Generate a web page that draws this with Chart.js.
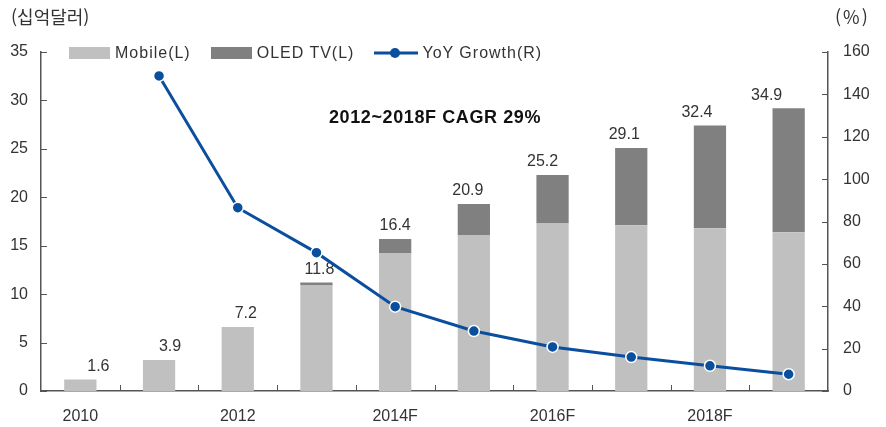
<!DOCTYPE html>
<html lang="ko">
<head>
<meta charset="utf-8">
<title>Mobile / OLED TV</title>
<script src="https://cdn.jsdelivr.net/npm/chart.js@4/dist/chart.umd.min.js"></script>
<style>
    body { margin: 0; background: #fff; }
    .wrap { position: relative; width: 886px; height: 427px; font-family: 'Liberation Sans', Arial, sans-serif; color: #333; }
    .unit { position: absolute; top: 3px; font-size: 18px; font-family: 'Noto Sans CJK KR', 'Liberation Sans', sans-serif; }
    .cagr { position: absolute; left: 329px; top: 107px; font-size: 18px; font-weight: bold; color: #111; letter-spacing: 0.6px; }
    .legend { position: absolute; left: 69px; top: 44px; display: flex; align-items: center; font-size: 16px; letter-spacing: 1px; }
    .legend .item { display: flex; align-items: center; margin-right: 20px; }
    .legend .swatch { width: 41px; height: 12px; margin-right: 5px; }
    .legend canvas { margin-right: 4px; }
</style>
</head>
<body>
<div class="wrap">
    <canvas id="chart" width="886" height="427"></canvas>
    <div class="unit" style="left:11px">(십억달러)</div>
    <div class="unit" style="left:835px; letter-spacing:2px">(%)</div>
    <div class="cagr">2012~2018F CAGR 29%</div>
    <div class="legend" id="legend"></div>
</div>
<script>
// categories and values
const categories = ['2010', '2011', '2012', '2013', '2014F', '2015F', '2016F', '2017F', '2018F', '2019F'];
const xTickLabels = ['2010', '', '2012', '', '2014F', '', '2016F', '', '2018F', ''];
const mobile = [1.2, 3.2, 6.6, 10.9, 14.2, 16.1, 17.3, 17.1, 16.8, 16.4];
const oledTv = [0, 0, 0, 0.3, 1.5, 3.2, 5.0, 8.0, 10.6, 12.8];
const yoyGrowth = [null, 148.7, 86.5, 65.3, 39.8, 28.3, 20.8, 16.0, 11.9, 7.9];
const totalLabels = ['1.6', '3.9', '7.2', '11.8', '16.4', '20.9', '25.2', '29.1', '32.4', '34.9'];

const axisColor = '#555';
const tickFont = { family: 'Liberation Sans', size: 16 };

// value labels above each stacked bar, drawn just before the line
// (in the original they sit a little off the bar centres)
const totalLabelPlugin = {
    id: 'totalLabels',
    beforeDatasetDraw(chart, args, opts) {
        if (args.index !== 2) return;
        const meta = chart.getDatasetMeta(1);
        const ctx = chart.ctx;
        ctx.save();
        ctx.font = '16px "Liberation Sans"';
        ctx.fillStyle = '#333';
        ctx.textAlign = 'center';
        ctx.textBaseline = 'bottom';
        meta.data.forEach((bar, i) => {
            ctx.fillText(totalLabels[i], bar.x + (opts.shift[i] || 0), bar.y - 5);
        });
        ctx.restore();
    }
};

// tick marks point inward, into the plot
const innerTicksPlugin = {
    id: 'innerTicks',
    afterDraw(chart) {
        const ctx = chart.ctx;
        const x = chart.scales.x, y = chart.scales.y, y1 = chart.scales.y1;
        const len = 6;
        ctx.save();
        ctx.strokeStyle = axisColor;
        ctx.lineWidth = 1;
        ctx.beginPath();
        for (let i = 1; i < categories.length; i++) {
            const px = Math.round((x.getPixelForValue(i - 1) + x.getPixelForValue(i)) / 2) + 0.5;
            ctx.moveTo(px, x.top);
            ctx.lineTo(px, x.top - len);
        }
        y.ticks.forEach((t, i) => {
            const py = Math.round(y.getPixelForTick(i)) + 0.5;
            ctx.moveTo(y.right, py);
            ctx.lineTo(y.right + len, py);
        });
        y1.ticks.forEach((t, i) => {
            const py = Math.round(y1.getPixelForTick(i)) + 0.5;
            ctx.moveTo(y1.left, py);
            ctx.lineTo(y1.left - len, py);
        });
        ctx.stroke();
        ctx.restore();
    }
};

const ctx = document.getElementById('chart').getContext('2d');
const chart = new Chart(ctx, {
    type: 'bar',
    data: {
        labels: categories,
        datasets: [
            {
                label: 'Mobile(L)',
                data: mobile,
                backgroundColor: '#c0c0c0',
                yAxisID: 'y',
                order: 1,
                categoryPercentage: 0.41,
                barPercentage: 1
            },
            {
                label: 'OLED TV(L)',
                data: oledTv,
                backgroundColor: '#808080',
                yAxisID: 'y',
                order: 2,
                categoryPercentage: 0.41,
                barPercentage: 1
            },
            {
                type: 'line',
                label: 'YoY Growth(R)',
                data: yoyGrowth,
                yAxisID: 'y1',
                order: 0,
                borderColor: '#0a4f9e',
                borderWidth: 3,
                tension: 0,
                pointRadius: 5.5,
                pointBackgroundColor: '#0a4f9e',
                pointBorderColor: '#fff',
                pointBorderWidth: 1.5
            }
        ]
    },
    options: {
        responsive: false,
        animation: false,
        layout: { padding: { top: 52, left: 0, right: 0, bottom: 0 } },
        plugins: {
            legend: { display: false },
            tooltip: { enabled: false },
            totalLabels: { shift: [18, 11, 8, 3, 0, -6, -10, -7, -13, -22] }
        },
        scales: {
            x: {
                stacked: true,
                grid: { display: false, drawTicks: false },
                border: { display: true, color: axisColor, width: 1.5 },
                ticks: {
                    color: '#333',
                    font: tickFont,
                    padding: 16,
                    autoSkip: false,
                    maxRotation: 0,
                    callback: (v, i) => xTickLabels[i]
                },
                afterFit: s => { s.height = 36; }
            },
            y: {
                stacked: true,
                position: 'left',
                min: 0,
                max: 35,
                grid: { display: false, drawTicks: false },
                border: { display: true, color: axisColor, width: 1.5 },
                ticks: { stepSize: 5, color: '#333', font: tickFont, padding: 13 },
                afterFit: s => { s.width = 41; }
            },
            y1: {
                position: 'right',
                min: 0,
                max: 160,
                grid: { display: false, drawTicks: false },
                border: { display: true, color: axisColor, width: 1.5 },
                ticks: { stepSize: 20, color: '#333', font: tickFont, padding: 15 },
                afterFit: s => { s.width = 58; }
            }
        }
    },
    plugins: [totalLabelPlugin, innerTicksPlugin]
});

// html legend built from the dataset settings
const legendEl = document.getElementById('legend');
chart.data.datasets.forEach(ds => {
    const item = document.createElement('div');
    item.className = 'item';
    if (ds.type === 'line') {
        const c = document.createElement('canvas');
        c.width = 44; c.height = 14;
        const g = c.getContext('2d');
        g.strokeStyle = ds.borderColor;
        g.lineWidth = 3;
        g.beginPath(); g.moveTo(0, 7); g.lineTo(44, 7); g.stroke();
        g.fillStyle = ds.pointBackgroundColor;
        g.beginPath(); g.arc(21, 7, 5, 0, Math.PI * 2); g.fill();
        item.appendChild(c);
    } else {
        const sw = document.createElement('div');
        sw.className = 'swatch';
        sw.style.background = ds.backgroundColor;
        item.appendChild(sw);
    }
    const txt = document.createElement('span');
    txt.textContent = ds.label;
    item.appendChild(txt);
    legendEl.appendChild(item);
});
</script>
</body>
</html>
